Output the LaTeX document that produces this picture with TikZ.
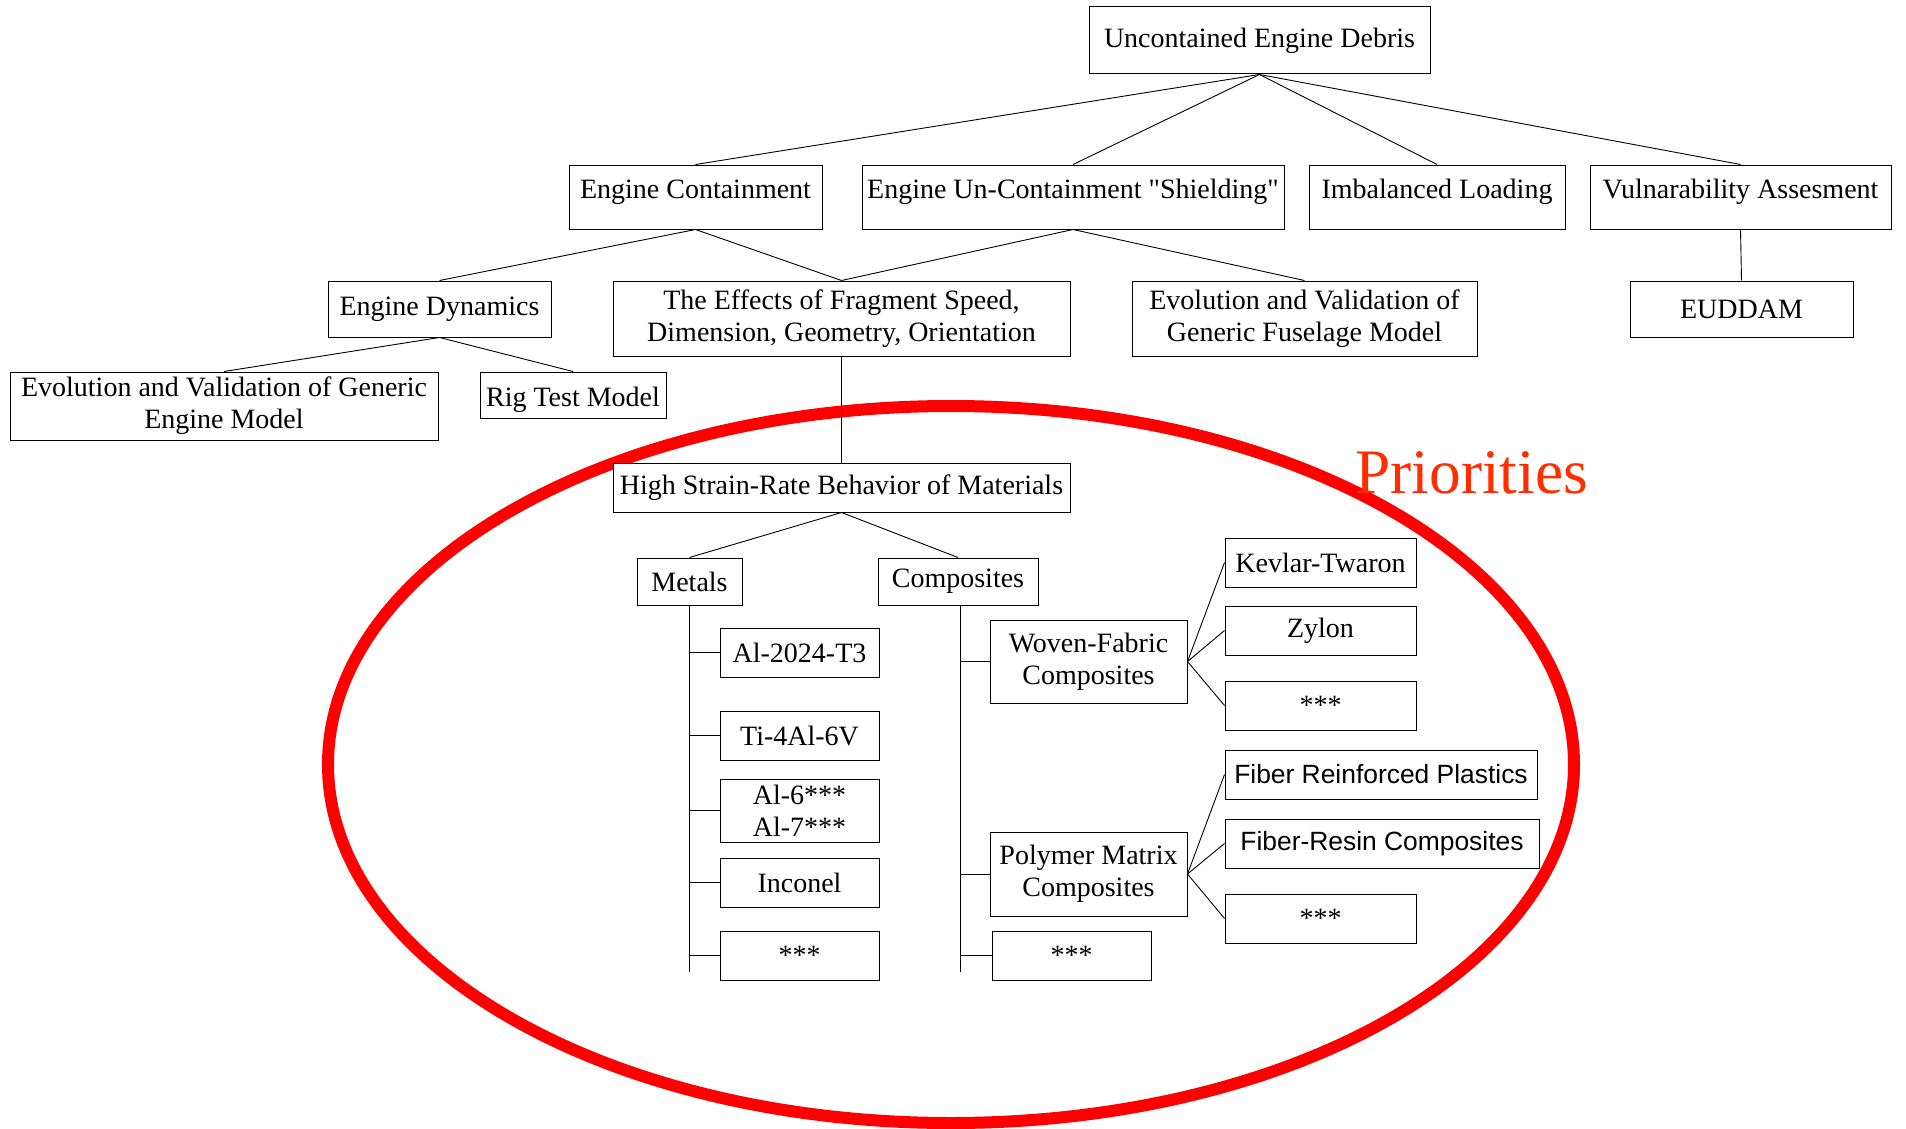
\documentclass[tikz,border=0pt]{standalone}
\usepackage{fontspec}
\setmainfont{Liberation Serif}
\newfontfamily\qfont[Ligatures=TeXOff]{Liberation Serif}
\newfontfamily\sansf{Liberation Sans}
\definecolor{prio}{RGB}{255,45,0}
\definecolor{ellred}{RGB}{255,0,0}
\begin{document}
\begin{tikzpicture}[x=0.5pt,y=-0.5pt,
  box/.style={draw, line width=0.5pt, fill=white, inner sep=1pt, align=center,
    font=\fontsize{14}{16}\selectfont},
  sbox/.style={box, font=\sansf\fontsize{13.2}{15}\selectfont},
  conn/.style={line width=0.45pt},
  ring/.style={draw=ellred, line width=6pt}]
\useasboundingbox (0,0) rectangle (1906,1129);

% priorities ellipse
\draw[ring] (951,764.5) ellipse [x radius=623, y radius=358.5];

% level 1
\node[box, minimum width=170.5pt, minimum height=33.5pt] (top) at (1259.5,40.5) {Uncontained Engine Debris};
% level 2
\node[box, minimum width=126.5pt, minimum height=32pt] (ec) at (695.5,197) {\raisebox{8pt}{Engine Containment}};
\node[box, minimum width=211pt, minimum height=32pt] (ush) at (1073,197) {\raisebox{8pt}{\qfont Engine Un-Containment "Shielding"}};
\node[box, minimum width=128pt, minimum height=32pt] (imb) at (1437,197) {\raisebox{8pt}{Imbalanced Loading}};
\node[box, minimum width=150.5pt, minimum height=32pt] (vul) at (1740.5,197) {\raisebox{8pt}{Vulnarability Assesment}};
% level 3
\node[box, minimum width=111.5pt, minimum height=28pt] (dyn) at (439.5,309) {\raisebox{2pt}{Engine Dynamics}};
\node[box, minimum width=228.5pt, minimum height=37.5pt] (eff) at (841.5,318.5) {The Effects of Fragment Speed,\\Dimension, Geometry, Orientation};
\node[box, minimum width=172.5pt, minimum height=37.5pt] (fus) at (1304.5,318.5) {Evolution and Validation of\\Generic Fuselage Model};
\node[box, minimum width=111.5pt, minimum height=28pt] (eud) at (1741.5,309) {EUDDAM};
% level 4
\node[box, minimum width=214pt, minimum height=34pt] (gem) at (224,406) {Evolution and Validation of Generic\\Engine Model};
\node[box, minimum width=93pt, minimum height=23pt] (rig) at (573,395) {\raisebox{-1pt}[\height][0pt]{Rig Test Model}};
\node[box, minimum width=228.5pt, minimum height=24.5pt] (hsr) at (841.5,487.5) {\raisebox{2pt}{High Strain-Rate Behavior of Materials}};
% materials
\node[box, minimum width=52.5pt, minimum height=23.5pt] (met) at (689.5,581.5) {Metals};
\node[box, minimum width=80pt, minimum height=23.5pt] (com) at (958,581.5) {Composites};
% metals
\node[box, minimum width=79.5pt, minimum height=24.5pt] (m1) at (799.5,652.5) {Al-2024-T3};
\node[box, minimum width=79.5pt, minimum height=24.5pt] (m2) at (799.5,735.5) {Ti-4Al-6V};
\node[box, minimum width=79.5pt, minimum height=31.5pt] (m3) at (799.5,810.5) {Al-6***\\Al-7***};
\node[box, minimum width=79.5pt, minimum height=24.5pt] (m4) at (799.5,882.5) {Inconel};
\node[box, minimum width=79.5pt, minimum height=24.5pt] (m5) at (799.5,955.5) {***};
% composites
\node[box, minimum width=98.5pt, minimum height=41.5pt] (wov) at (1088.5,661.5) {Woven-Fabric\\Composites};
\node[box, minimum width=98.5pt, minimum height=42pt] (pol) at (1088.5,874) {Polymer Matrix\\Composites};
\node[box, minimum width=79.5pt, minimum height=24.5pt] (c3) at (1071.5,955.5) {***};
% woven children
\node[box, minimum width=95.5pt, minimum height=24.5pt] (kev) at (1320.5,562.5) {Kevlar-Twaron};
\node[box, minimum width=95.5pt, minimum height=24.5pt] (zyl) at (1320.5,630.5) {Zylon};
\node[box, minimum width=95.5pt, minimum height=24.5pt] (w3) at (1320.5,705.5) {***};
% polymer children
\node[sbox, minimum width=156pt, minimum height=24.5pt] (frp) at (1381,774.5) {Fiber Reinforced Plastics};
\node[sbox, minimum width=157pt, minimum height=24.5pt] (frc) at (1382,843.5) {Fiber-Resin Composites};
\node[box, minimum width=95.5pt, minimum height=24.5pt] (p3) at (1320.5,918.5) {***};

% connectors
\draw[conn] (top.south) -- (ec.north);
\draw[conn] (top.south) -- (ush.north);
\draw[conn] (top.south) -- (imb.north);
\draw[conn] (top.south) -- (vul.north);
\draw[conn] (ec.south) -- (dyn.north);
\draw[conn] (ec.south) -- (eff.north);
\draw[conn] (ush.south) -- (eff.north);
\draw[conn] (ush.south) -- (fus.north);
\draw[conn] (vul.south) -- (eud.north);
\draw[conn] (dyn.south) -- (gem.north);
\draw[conn] (dyn.south) -- (rig.north);
\draw[conn] (eff.south) -- (hsr.north);
\draw[conn] (hsr.south) -- (met.north);
\draw[conn] (hsr.south) -- (com.north);

\coordinate (mbot) at (689.5,972);
\coordinate (cbot) at (960,972);
\draw[conn] (met.south) -- (mbot);
\draw[conn] (com.south -| cbot) -- (cbot);
\foreach \n in {m1,m2,m3,m4,m5}
  \draw[conn] (\n.west) -- (\n.west -| mbot);
\foreach \n in {wov,pol,c3}
  \draw[conn] (\n.west) -- (\n.west -| cbot);
\foreach \n in {kev,zyl,w3}
  \draw[conn] (wov.east) -- (\n.west);
\foreach \n in {frp,frc,p3}
  \draw[conn] (pol.east) -- (\n.west);

% label
\node[anchor=base west, inner sep=0, text=prio, font=\fontsize{31.7}{34}\selectfont] (prl) at (1355,493) {Priorities};
\end{tikzpicture}
\end{document}
